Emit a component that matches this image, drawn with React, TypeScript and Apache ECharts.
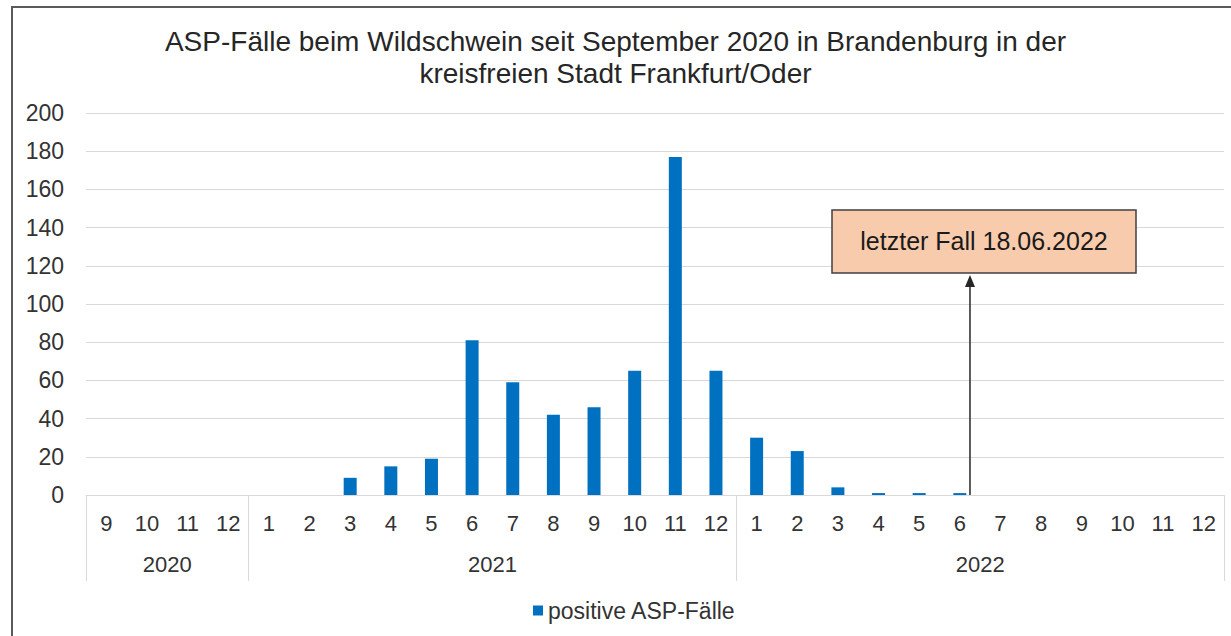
import React, { useEffect, useRef } from "react";
import * as echarts from "echarts";

const months = ["9", "10", "11", "12", "1", "2", "3", "4", "5", "6", "7", "8", "9", "10", "11", "12", "1", "2", "3", "4", "5", "6", "7", "8", "9", "10", "11", "12"];
const cases = [0, 0, 0, 0, 0, 0, 9, 15, 19, 81, 59, 42, 46, 65, 177, 65, 30, 23, 4, 1, 1, 1, 0, 0, 0, 0, 0, 0];
const years = ["2020", "2021", "2022"];
const yearBounds = [0, 4, 16, 28];
const yearCenters = [2, 10, 22];
const seriesName = "positive ASP-Fälle";
const titleText = "ASP-Fälle beim Wildschwein seit September 2020 in Brandenburg in der\nkreisfreien Stadt Frankfurt/Oder";
const noteText = "letzter Fall 18.06.2022";
const notePos = 21.75; // position of 18.06.2022 on the month scale

const FONT = "'Liberation Sans', Arial, sans-serif";

export default function App() {
  const ref = useRef<HTMLDivElement>(null);
  useEffect(() => {
    document.body.style.margin = "0";
    const chart = echarts.init(ref.current!, undefined, { renderer: "svg" });
    chart.setOption({
      animation: false,
      textStyle: { fontFamily: FONT },
      title: {
        text: titleText,
        left: "center",
        top: 20,
        textStyle: { fontFamily: FONT, fontSize: 28, fontWeight: "normal", color: "#262626", lineHeight: 32 },
      },
      legend: {
        data: [seriesName],
        left: 528,
        top: 594,
        icon: "rect",
        itemWidth: 10,
        itemHeight: 10,
        textStyle: { fontFamily: FONT, fontSize: 23, color: "#333" },
      },
      grid: { left: 86, right: 7, top: 113, bottom: 141 },
      yAxis: {
        type: "value",
        min: 0,
        max: 200,
        interval: 20,
        axisLine: { show: false },
        axisTick: { show: false },
        axisLabel: { fontFamily: FONT, fontSize: 23, color: "#333", margin: 22 },
        splitLine: { lineStyle: { color: "#d9d9d9", width: 1 } },
      },
      xAxis: [
        {
          type: "category",
          data: months,
          position: "bottom",
          axisTick: { show: false },
          axisLine: { lineStyle: { color: "#d9d9d9", width: 1 } },
          axisLabel: { interval: 0, fontFamily: FONT, fontSize: 22, color: "#333", margin: 17 },
        },
        {
          type: "value",
          min: 0,
          max: 28,
          position: "bottom",
          axisLine: { show: false },
          splitLine: { show: false },
          axisTick: { show: true, customValues: yearBounds, length: 86, lineStyle: { color: "#d9d9d9", width: 1 } },
          axisLabel: {
            customValues: yearCenters,
            formatter: (v: number) => years[yearCenters.indexOf(v)] ?? "",
            fontFamily: FONT,
            fontSize: 22,
            color: "#333",
            margin: 58,
          },
        },
      ],
      series: [
        {
          type: "bar",
          name: seriesName,
          xAxisIndex: 0,
          data: cases,
          barWidth: 13,
          itemStyle: { color: "#0070C0" },
        },
      ],
    });

    const ax = chart.convertToPixel({ xAxisIndex: 1 }, notePos) as number;
    const y0 = chart.convertToPixel({ yAxisIndex: 0 }, 0) as number;
    chart.setOption({
      graphic: [
        {
          type: "rect",
          silent: true,
          shape: { x: 12, y: 7, width: 1400, height: 800 },
          style: { fill: "none", stroke: "#5a5a5a", lineWidth: 2 },
        },
        {
          type: "line",
          silent: true,
          shape: { x1: ax, y1: y0, x2: ax, y2: 284 },
          style: { stroke: "#262626", lineWidth: 1.5 },
        },
        {
          type: "polygon",
          silent: true,
          shape: { points: [[ax, 275], [ax - 5, 287], [ax + 5, 287]] },
          style: { fill: "#262626" },
        },
        {
          type: "rect",
          silent: true,
          shape: { x: 832, y: 210, width: 304, height: 63 },
          style: { fill: "#F8CBAD", stroke: "#404040", lineWidth: 1.5 },
        },
        {
          type: "text",
          silent: true,
          x: 984,
          y: 241,
          style: {
            text: noteText,
            fontFamily: FONT,
            fontSize: 25,
            fill: "#1a1a1a",
            align: "center",
            verticalAlign: "middle",
          },
        },
      ],
    });
    return () => chart.dispose();
  }, []);
  return <div ref={ref} style={{ width: 1231, height: 636 }} />;
}
